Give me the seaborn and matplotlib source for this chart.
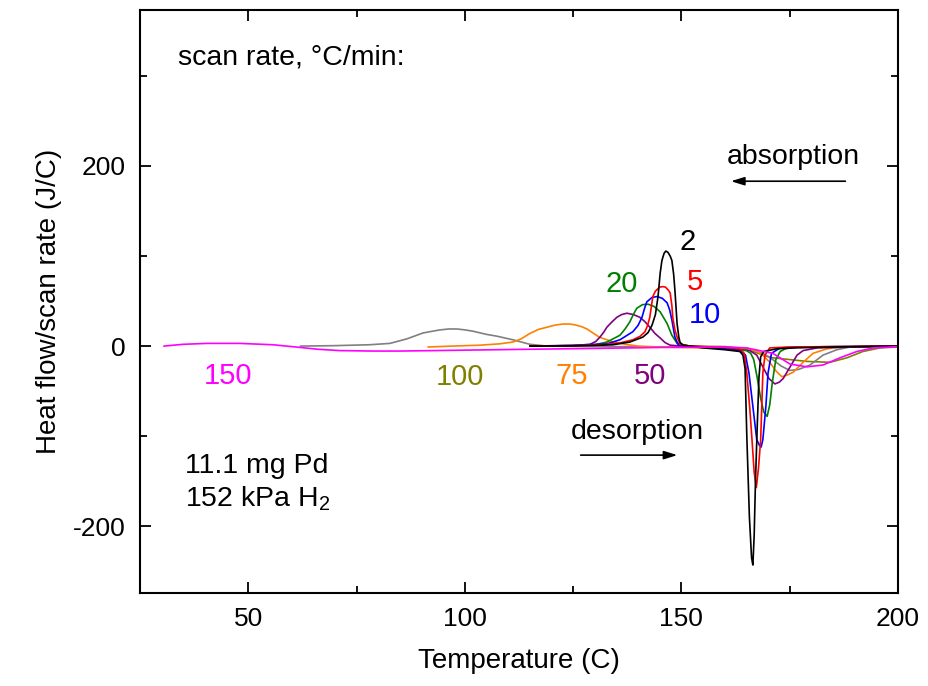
import matplotlib
matplotlib.use("Agg")
import matplotlib.pyplot as plt
from matplotlib.ticker import MultipleLocator
import seaborn as sns
import pandas as pd

# ---------------- data ----------------
rates = ["2", "5", "10", "20", "50", "75", "100", "150", "100d"]

black_T = [115, 125, 130, 134.2, 138.1, 141.1, 142.3, 143.2, 144.0, 144.6, 145.1, 145.5, 146.0, 146.4, 146.9, 147.4, 147.8, 148.2, 148.5, 148.8, 149.0, 149.4, 149.7, 150.4, 155, 160, 163.5, 164.2, 164.7, 165.1, 165.7, 166.2, 166.5, 166.8, 167.1, 167.5, 167.9, 168.3, 169.0, 172, 176, 185, 200]
black_Y = [0, 0.3, 0.8, 1.5, 4.5, 10, 15, 23, 35, 55, 81, 95, 103, 105.5, 104, 100, 95, 80, 62, 40, 25, 10, 4, 1, -2, -4, -6, -10, -25, -100, -190, -235, -243, -210, -150, -90, -35, -12, -6, -3, -2, -1, 0]

red_T = [115, 125, 132, 135.8, 138.8, 140.5, 141.6, 142.2, 142.7, 143.4, 144.0, 145.0, 145.7, 146.3, 147.0, 147.4, 147.8, 148.0, 148.5, 149.0, 149.7, 152, 160, 163.5, 164.5, 165.1, 165.8, 166.3, 166.8, 167.3, 167.8, 168.3, 168.8, 169.3, 170.4, 175, 200]
red_Y = [0, 0.5, 1.5, 3.5, 7, 11, 16, 23, 32, 55, 61, 65.5, 66, 65.5, 62, 59, 45, 32, 18, 10, 2, 0, -1.5, -3, -8, -30, -70, -104, -140, -157, -135, -104, -30, -10, -2, -1, 0]

blue_T = [115, 125, 132.8, 135.8, 138.8, 140.0, 140.9, 141.5, 142.0, 143.2, 144.4, 145.6, 146.7, 147.3, 147.8, 148.2, 148.5, 149.3, 152, 160, 163.5, 164.8, 165.6, 166.5, 167.4, 168.0, 168.4, 168.8, 169.5, 170.0, 170.8, 172.8, 178, 200]
blue_Y = [0, 0.8, 2.5, 7, 16, 23, 32, 42, 49, 54, 55, 53, 48, 40, 29, 18, 10, 1, 0, -3, -5, -10, -30, -67, -104, -110, -112, -104, -67, -30, -8, -2, -1, 0]

green_T = [115, 125, 129.6, 132.8, 135.8, 137.0, 138.1, 139.0, 139.7, 141.0, 142.3, 143.7, 145.1, 146.7, 147.8, 149.0, 152, 160, 165, 166.0, 166.7, 167.5, 168.3, 169.0, 169.8, 170.4, 171.0, 171.8, 172.8, 174, 176.5, 200]
green_Y = [0, 0.5, 1, 4.5, 12, 19, 27, 36, 42, 46, 46.5, 44, 38, 25, 12, 3, 0, -2, -5, -8, -15, -35, -58, -73, -78, -65, -40, -15, -6, -3, -1, 0]

purple_T = [115, 125, 128.9, 130.2, 131.2, 132.0, 132.8, 134.0, 135.1, 136.2, 137.4, 138.9, 140.4, 141.6, 142.7, 143.9, 145.1, 146.2, 147.4, 150, 160, 165.8, 167.4, 168.8, 170.2, 171.6, 172.6, 173.5, 175.1, 176.7, 178.1, 181.3, 190, 200]
purple_Y = [0, 0.5, 2, 5, 10, 15, 21, 27, 32, 35, 36.5, 35, 32, 27, 21, 14, 9, 4, 1, 0, -2, -5, -10, -23, -36, -42, -40, -36, -23, -10, -5, -2, -1, 0]

orange_T = [91.5, 97, 103.5, 108, 111.1, 113, 115, 117, 119, 121, 122.7, 124.2, 125.5, 127, 128.2, 131, 134, 137, 140, 145, 155, 165, 167.4, 168.8, 170.4, 171.9, 173.2, 174.5, 175.8, 178.1, 180.4, 183.6, 186.6, 195, 200]
orange_Y = [-1, 0, 1, 2.5, 4.5, 8, 14, 18.5, 21, 23.5, 24.5, 24.5, 23.5, 21.5, 19, 10, 5, 2, 0, -1, -2, -3, -5.5, -10, -18, -28, -34, -32, -29, -18, -8, -3, -1, -0.5, 0]

gray_T = [62, 70, 78, 82.7, 86.6, 90.3, 92.5, 94.3, 96.3, 98.2, 100.0, 101.9, 105, 107.4, 109.7, 111.1, 115, 119, 130, 150, 165, 168.8, 171.1, 173, 175, 177, 179.7, 182.7, 185.9, 188.9, 200]
gray_Y = [0, 0.5, 1.5, 3, 8, 14.5, 16.5, 18, 19, 19, 18, 16.5, 13, 11, 8.5, 7, 2, 0, -0.5, -1, -2, -8, -15, -22, -27, -26, -21, -10, -4, -1, 0]

magenta_T = [30.5, 35, 40.5, 48, 55.7, 62, 66, 71.2, 78.8, 85, 100, 115, 131.2, 145, 160, 165, 171.1, 175.1, 179, 182.7, 186.6, 190.5, 194.3, 198.2, 200]
magenta_Y = [0, 2, 3, 3, 1.5, -1.5, -3.5, -5, -5.5, -5.5, -4.5, -3.5, -2.5, -1.5, -1, -2, -8, -20, -23, -21, -13, -6, -2, -1, -0.5]

olive_T = [150, 160, 165, 168.8, 171.1, 175.1, 179, 184.3, 188.2, 191.9, 195.8, 199.8]
olive_Y = [0, -0.5, -3, -10, -13, -15, -17, -18, -13, -6, -2, -1]

colors = {"2": "#000000", "5": "#ff0000", "10": "#0000ff", "20": "#008000",
          "50": "#800080", "75": "#ff8000", "100": "#808080", "150": "#ff00ff",
          "100d": "#808000"}

# rate labels: text, x, y, color
label_text = ["2", "5", "10", "20", "150", "100", "75", "50"]
label_x = [151.5, 153.1, 155.4, 136.3, 45.3, 98.9, 124.7, 142.7]
label_y = [115, 71, 34, 69, -33, -34, -33, -33]
label_col = ["#000000", "#ff0000", "#0000ff", "#008000", "#ff00ff", "#808000", "#ff8000", "#800080"]

x_ticks = [50, 100, 150, 200]
y_ticks = [-200, 0, 200]

# ---------------- build frame ----------------
series = {"2": (black_T, black_Y), "5": (red_T, red_Y), "10": (blue_T, blue_Y),
          "20": (green_T, green_Y), "50": (purple_T, purple_Y), "75": (orange_T, orange_Y),
          "100": (gray_T, gray_Y), "150": (magenta_T, magenta_Y), "100d": (olive_T, olive_Y)}
frames = []
for r in rates:
    T, Y = series[r]
    frames.append(pd.DataFrame({"T": T, "Y": Y, "rate": r}))
df = pd.concat(frames, ignore_index=True)

sns.set_style("ticks")
plt.rcParams["font.family"] = ["Liberation Sans", "DejaVu Sans"]
plt.rcParams["mathtext.fontset"] = "custom"
plt.rcParams["mathtext.rm"] = "Liberation Sans"
plt.rcParams["axes.unicode_minus"] = False
for k in ["text.color", "axes.labelcolor", "xtick.color", "ytick.color", "axes.edgecolor"]:
    plt.rcParams[k] = "black"

fig = plt.figure(figsize=(9.29, 6.86), dpi=100)
ax = fig.add_axes([0.1507, 0.1356, 0.8159, 0.8498])

order = ["100d", "100", "75", "50", "20", "10", "5", "2", "150"]
sns.lineplot(data=df, x="T", y="Y", hue="rate", hue_order=order, palette=colors,
             units="rate", estimator=None, sort=False, linewidth=1.2, legend=False, ax=ax)

ax.set_xlim(25, 200)
ax.set_ylim(-274, 373)
ax.set_xticks(x_ticks)
ax.set_yticks(y_ticks)
ax.xaxis.set_minor_locator(MultipleLocator(25))
ax.yaxis.set_minor_locator(MultipleLocator(100))
ax.tick_params(which="both", direction="in", top=True, right=True, width=1.3,
               labelsize=19, pad=10, colors="black")
ax.tick_params(which="major", length=8)
ax.tick_params(which="minor", length=5)
for s in ax.spines.values():
    s.set_linewidth(1.5)
    s.set_color("black")

ax.set_xlabel("Temperature (C)", fontsize=20, labelpad=12)
ax.set_ylabel("Heat flow/scan rate (J/C)", fontsize=20, labelpad=8)

for t, x, y, c in zip(label_text, label_x, label_y, label_col):
    ax.text(x, y, t, color=c, fontsize=21, ha="center", va="center")

ax.text(33.8, 320, "scan rate, \u00b0C/min:", fontsize=20.5, ha="left", va="center")
ax.text(160.5, 210, "absorption", fontsize=20.5, ha="left", va="center")
ax.annotate("", xy=(160.8, 183), xytext=(188.5, 183),
            arrowprops=dict(arrowstyle="-|>,head_length=0.8,head_width=0.25", color="black", lw=1.2))
ax.text(124.5, -95.5, "desorption", fontsize=20.5, ha="left", va="center")
ax.annotate("", xy=(149.7, -121), xytext=(126.1, -121),
            arrowprops=dict(arrowstyle="-|>,head_length=0.8,head_width=0.25", color="black", lw=1.2))
ax.text(35.4, -133, "11.1 mg Pd", fontsize=20.5, ha="left", va="center")
ax.text(35.4, -169, "152 kPa H$_\\mathregular{2}$", fontsize=20.5, ha="left", va="center")

fig.savefig("out.png", dpi=100)
